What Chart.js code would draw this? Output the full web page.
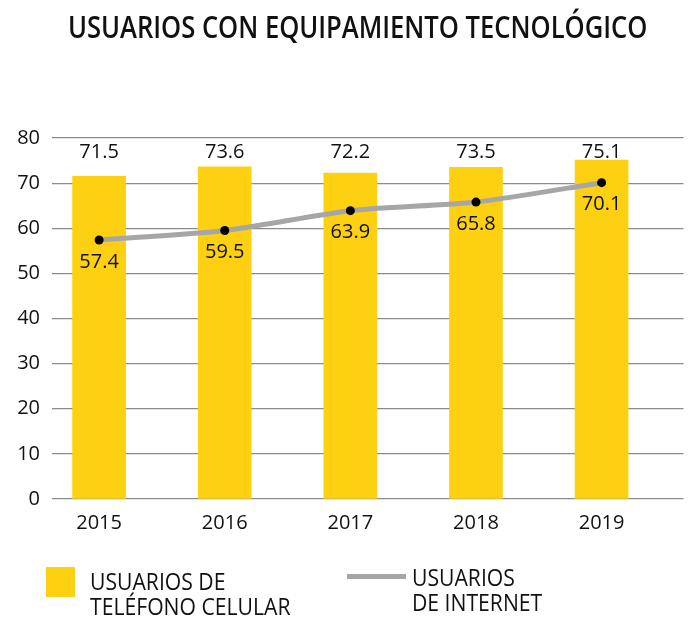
<!DOCTYPE html>
<html>
<head>
<meta charset="utf-8">
<script src="https://cdn.jsdelivr.net/npm/chart.js@4.4.1/dist/chart.umd.min.js"></script>
<style>
  html, body { margin: 0; padding: 0; background: #ffffff; }
  #wrap { position: relative; width: 688px; height: 620px; overflow: hidden; }
  #c { position: absolute; left: 0; top: 0; }
  .title { position: absolute; left: 68px; top: 7px; white-space: nowrap; transform-origin: 0 0;
           font-family: "Open Sans", sans-serif; font-weight: 600; font-size: 31px; color: #111; line-height: 38px; }
  .leg-text { position: absolute; font-family: "Open Sans", sans-serif; white-space: nowrap;
              font-size: 23px; line-height: 25px; color: #111; transform-origin: 0 0; transform: scaleX(0.92); }
  .sw-bar { position: absolute; left: 46px; top: 567px; width: 29px; height: 30px; background: #FDD012; }
  .sw-line { position: absolute; left: 347px; top: 574px; width: 59px; height: 5px; background: #A6A6A6; }
</style>
</head>
<body>
<div id="wrap">
  <canvas id="c" width="688" height="620"></canvas>
  <div class="title" id="title">USUARIOS CON EQUIPAMIENTO TECNOLÓGICO</div>
  <div class="sw-bar"></div>
  <div class="leg-text" style="left:90px; top:569px;">USUARIOS DE<br>TELÉFONO CELULAR</div>
  <div class="sw-line"></div>
  <div class="leg-text" style="left:412px; top:565px;">USUARIOS<br>DE INTERNET</div>
</div>
<script>
const years = ['2015', '2016', '2017', '2018', '2019'];
const celular = [71.5, 73.6, 72.2, 73.5, 75.1];
const internet = [57.4, 59.5, 63.9, 65.8, 70.1];

// squeeze title to the condensed width of the original
const t = document.getElementById('title');
t.style.transform = 'scaleX(' + (579 / t.offsetWidth) + ')';

const labelFont = '20px "Open Sans", sans-serif';

const labelsPlugin = {
  id: 'valueLabels',
  afterDatasetsDraw(chart) {
    const ctx = chart.ctx;
    const yScale = chart.scales.y;
    ctx.save();
    ctx.font = labelFont;
    ctx.fillStyle = '#111';
    ctx.textAlign = 'center';
    ctx.textBaseline = 'middle';
    const barMeta = chart.getDatasetMeta(1);
    barMeta.data.forEach((el, i) => {
      ctx.fillText(celular[i].toFixed(1), el.x, yScale.getPixelForValue(80) + 14);
    });
    const lineMeta = chart.getDatasetMeta(0);
    lineMeta.data.forEach((el, i) => {
      ctx.fillText(internet[i].toFixed(1), el.x, el.y + 22);
    });
    ctx.restore();
  }
};

new Chart(document.getElementById('c'), {
  data: {
    datasets: [
      {
        type: 'line',
        label: 'USUARIOS DE INTERNET',
        data: internet.map((v, i) => ({ x: i, y: v })),
        borderColor: '#A6A6A6',
        borderWidth: 5,
        tension: 0.25,
        pointRadius: 4.5,
        pointBackgroundColor: '#000',
        pointBorderColor: '#000',
        pointBorderWidth: 0,
        order: 0
      },
      {
        type: 'bar',
        label: 'USUARIOS DE TELÉFONO CELULAR',
        data: celular.map((v, i) => ({ x: i, y: v })),
        backgroundColor: '#FDD012',
        barThickness: 53,
        order: 1
      }
    ]
  },
  options: {
    responsive: false,
    animation: false,
    layout: { padding: { top: 138, left: 0, right: 0, bottom: 81 } },
    plugins: { legend: { display: false }, tooltip: { enabled: false }, title: { display: false } },
    scales: {
      x: {
        type: 'linear',
        offset: false,
        min: -0.375,
        max: 4.652,
        grid: { display: false },
        border: { display: false },
        afterBuildTicks: s => { s.ticks = years.map((_, i) => ({ value: i })); },
        afterFit: s => { s.height = 40; },
        ticks: {
          autoSkip: false,
          maxRotation: 0,
          padding: 4,
          color: '#111',
          font: { family: '"Open Sans", sans-serif', size: 20 },
          callback: v => years[v] !== undefined ? years[v] : ''
        }
      },
      y: {
        min: 0,
        max: 80,
        afterFit: s => { s.width = 52; },
        border: { display: false },
        grid: { color: '#8C8C8C', lineWidth: 1.2, drawTicks: false },
        ticks: {
          stepSize: 10,
          padding: 12,
          color: '#111',
          font: { family: '"Open Sans", sans-serif', size: 20 }
        }
      }
    }
  },
  plugins: [labelsPlugin]
});
</script>
</body>
</html>
